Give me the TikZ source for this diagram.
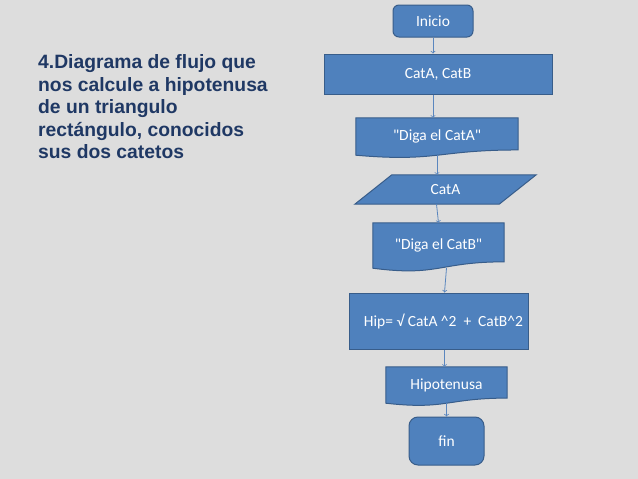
\documentclass[tikz,border=0pt]{standalone}
\usepackage{fontspec}
\setmainfont{Carlito}
\newfontfamily\titlefont{Liberation Sans}
\usepackage{tikz}
\usetikzlibrary{calc,backgrounds}
\definecolor{fondo}{HTML}{DDDDDD}
\definecolor{azulcaja}{HTML}{4F81BD}
\definecolor{azulborde}{HTML}{385D8A}
\definecolor{azulflecha}{HTML}{5A86BE}
\definecolor{azultit}{HTML}{1F3864}

% hoja con borde ondulado abajo
\newcommand{\hoja}[1]{%
	\begin{scope}[on background layer]
	\draw[fill=azulcaja,draw=azulborde,line width=1pt] (#1.north west) -- (#1.north east)
		-- ($(#1.north east)!0.86!(#1.south east)$)
		.. controls ($(#1.north)!0.86!(#1.south)$) and ($(#1.north)!1.19!(#1.south)$) .. (#1.south west) -- cycle;
	\end{scope}}

\begin{document}
\begin{tikzpicture}[x=1pt,y=-1pt,
	texto/.style={text=white,font=\fontsize{15.5}{18}\selectfont,inner sep=0pt},
	proceso/.style={texto,rectangle,fill=azulcaja,draw=azulborde,line width=1pt},
	terminal/.style={proceso,rounded corners=6pt},
	documento/.style={texto,rectangle},
	datos/.style={texto,rectangle},
	flecha/.style={->,draw=azulflecha,line width=0.8pt},
	titulo/.style={font=\titlefont\bfseries\fontsize{19.3}{22.5}\selectfont,text=azultit,align=left,inner sep=0pt},
	]
	\useasboundingbox (0,0) rectangle (638,479);
	\begin{scope}[on background layer]
	\fill[fondo] (0,0) rectangle (638,479);
	\end{scope}

	\node[titulo,anchor=north west] (tit) at (38,54.6) {4.Diagrama de flujo que\\nos calcule a hipotenusa\\de un triangulo\\rectángulo, conocidos\\sus dos catetos};

	\node[terminal,minimum width=80,minimum height=32] (ini) at (433,21) {Inicio};
	\node[proceso,minimum width=228,minimum height=40] (cab) at (438,74) {CatA, CatB};
	\node[documento,minimum width=162,minimum height=37] (dA) at (437,136.5) {\textquotedbl Diga el CatA\textquotedbl};
	\hoja{dA}
	\node[datos,minimum width=144,minimum height=29] (cA) at (445.5,189.5) {CatA};
	\begin{scope}[on background layer]
	\draw[fill=azulcaja,draw=azulborde,line width=1pt] ($(cA.north west)+(18.5,0)$) -- ($(cA.north east)+(18.5,0)$)
		-- ($(cA.south east)+(-18.5,0)$) -- ($(cA.south west)+(-18.5,0)$) -- cycle;
	\end{scope}
	\node[documento,minimum width=131,minimum height=45] (dB) at (438.5,245.5) {\textquotedbl Diga el CatB\textquotedbl};
	\hoja{dB}
	\node[proceso,minimum width=179,minimum height=56] (hip) at (438.5,321) {\hspace{10pt}Hip= √ CatA \textasciicircum2\hspace{0.45em}+\hspace{0.45em}CatB\textasciicircum2};
	\node[documento,minimum width=121,minimum height=36] (hipo) at (446.5,385) {Hipotenusa};
	\hoja{hipo}
	\node[terminal,minimum width=75,minimum height=48,rounded corners=9pt] (fin) at (446.5,441) {fin};

	\draw[flecha] (ini.south) -- (ini.south |- cab.north);
	\draw[flecha] ([xshift=-5pt]cab.south) -- ([xshift=-4pt]dA.north);
	\draw[flecha] (dA.south) -- (dA.south |- cA.north);
	\draw[flecha] ([xshift=-9pt]cA.south) -- (dB.north);
	\draw[flecha] ([xshift=8pt]dB.south) -- ([xshift=6pt]hip.north);
	\draw[flecha] ([xshift=6pt]hip.south) -- ([xshift=6pt]hip.south |- hipo.north);
	\draw[flecha] (hipo.south) -- (fin.north);
\end{tikzpicture}
\end{document}
